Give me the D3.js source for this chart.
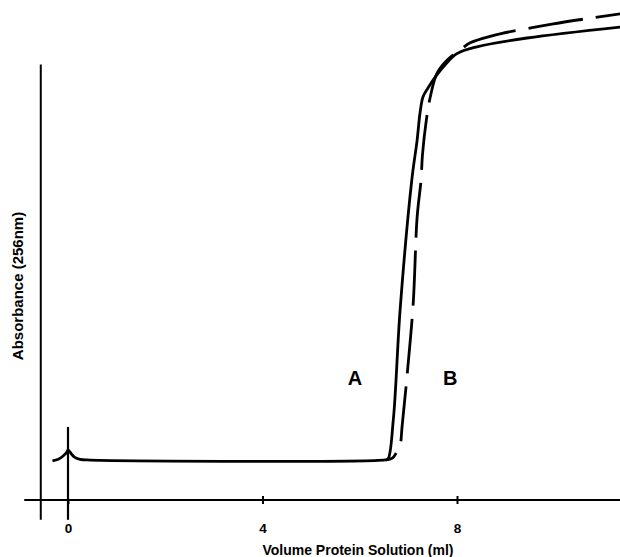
<!DOCTYPE html>
<html>
<head>
<meta charset="utf-8">
<script src="https://cdnjs.cloudflare.com/ajax/libs/d3/7.8.5/d3.min.js"></script>
<style>
  body { margin: 0; background: #fff; }
  svg { display: block; }
  text { font-family: "Liberation Sans", Arial, sans-serif; fill: #000; }
</style>
</head>
<body>
<div id="chart"></div>
<script>
// Chart size
var width = 620;
var height = 557;

// Tick values on the volume axis
var xTicks = [0, 4, 8];

// Curve A (solid) - volume (ml) and absorbance (arbitrary units)
var volumeA = [-0.32, -0.2, -0.1, -0.03, 0, 0.07, 0.14, 0.25, 0.39, 6.52, 6.58, 6.69, 6.83, 7.07, 7.18, 7.24, 7.3, 7.4, 7.57, 7.77, 7.99, 8.41, 9.44, 11.36];
var absorbA = [8.9, 9.25, 10, 10.75, 11.4, 10.45, 9.7, 9.25, 9.1, 9.1, 9.3, 18.2, 43.2, 72.7, 81.8, 88, 91.6, 93.6, 96.4, 99.1, 101.4, 103, 105, 107.5];

// Curve B (dashed)
var volumeB = [6.54, 6.67, 6.75, 6.83, 6.87, 6.98, 7.1, 7.18, 7.26, 7.29, 7.37, 7.45, 7.59, 7.8, 8.07, 8.27, 8.72, 9.98, 11.36];
var absorbB = [9.1, 9.5, 10.7, 12.5, 16.6, 29.1, 44.8, 64.3, 72.7, 78.5, 86.4, 91.6, 97.0, 100, 102.3, 103.9, 105.5, 108.2, 110.5];

// Injection marker height
var markerTop = 16.6;

// Curve labels
var curveLabels = ["A", "B"];
var labelVolume = [5.9, 7.86];
var labelAbsorb = [26.1, 26.1];

var svg = d3.select("#chart").append("svg")
  .attr("width", width)
  .attr("height", height);

// Scales
var x = d3.scaleLinear().domain([0, 8]).range([68, 457]);
var y = d3.scaleLinear().domain([0, 100]).range([500, 60]);

// X axis
var xAxis = d3.axisBottom(x)
  .tickValues(xTicks)
  .tickSize(0)
  .tickPadding(23);

var gx = svg.append("g")
  .attr("transform", "translate(0," + y(0) + ")")
  .call(xAxis);
gx.select(".domain").remove();
gx.selectAll(".tick text")
  .style("font-size", "13.5px")
  .style("font-weight", "bold")
  .style("font-family", "Liberation Sans, Arial, sans-serif");
gx.selectAll(".tick")
  .append("line")
  .attr("y1", function(d) { return d === 0 ? 0 : -4; })
  .attr("y2", 4)
  .attr("stroke", "#000")
  .attr("stroke-width", 2);

// horizontal axis line
svg.append("line")
  .attr("x1", x(-0.9)).attr("x2", x(11.4))
  .attr("y1", y(0)).attr("y2", y(0))
  .attr("stroke", "#000")
  .attr("stroke-width", 2);

// vertical axis line
svg.append("line")
  .attr("x1", x(-0.56)).attr("x2", x(-0.56))
  .attr("y1", y(99)).attr("y2", y(-4.5))
  .attr("stroke", "#000")
  .attr("stroke-width", 2);

// injection marker at 0
svg.append("line")
  .attr("x1", x(0)).attr("x2", x(0))
  .attr("y1", y(markerTop)).attr("y2", y(-4.5))
  .attr("stroke", "#000")
  .attr("stroke-width", 2.2);

// Axis titles
svg.append("text")
  .attr("x", 358)
  .attr("y", 555)
  .attr("text-anchor", "middle")
  .style("font-size", "14px")
  .style("font-weight", "bold")
  .text("Volume Protein Solution (ml)");

svg.append("text")
  .attr("transform", "translate(23,286) rotate(-90)")
  .attr("text-anchor", "middle")
  .style("font-size", "15px")
  .style("font-weight", "bold")
  .text("Absorbance (256nm)");

// Curves
var line = d3.line()
  .x(function(d) { return x(d[0]); })
  .y(function(d) { return y(d[1]); })
  .curve(d3.curveCatmullRom.alpha(0.5));

svg.append("path")
  .datum(d3.zip(volumeA, absorbA))
  .attr("fill", "none")
  .attr("stroke", "#000")
  .attr("stroke-width", 2.8)
  .attr("d", line);

svg.append("path")
  .datum(d3.zip(volumeB, absorbB))
  .attr("fill", "none")
  .attr("stroke", "#000")
  .attr("stroke-width", 2.8)
  .attr("stroke-dasharray", "55,13")
  .attr("stroke-dashoffset", 42)
  .attr("d", line);

// Curve labels
svg.selectAll(".curve-label")
  .data(curveLabels)
  .enter().append("text")
  .attr("class", "curve-label")
  .attr("x", function(d, i) { return x(labelVolume[i]); })
  .attr("y", function(d, i) { return y(labelAbsorb[i]); })
  .attr("text-anchor", "middle")
  .style("font-size", "20px")
  .style("font-weight", "bold")
  .text(function(d) { return d; });
</script>
</body>
</html>
